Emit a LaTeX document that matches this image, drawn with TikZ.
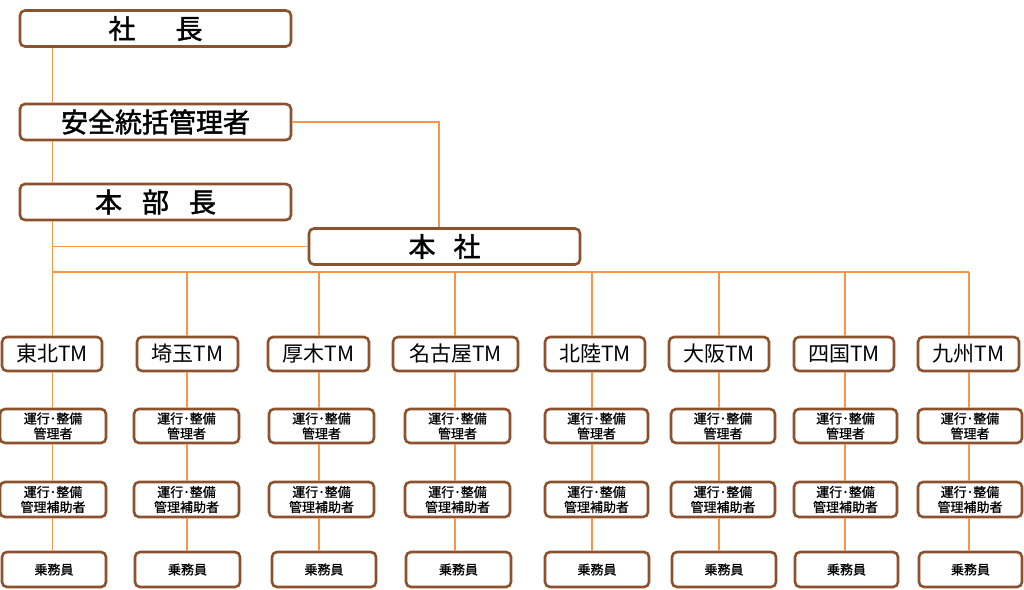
\documentclass[tikz,border=0pt]{standalone}
\usepackage{fontspec}
\setmainfont{Noto Sans CJK JP}
\newfontfamily\jpbold{Noto Sans CJK JP}[FakeBold=1.6]
\newfontfamily\jpmed{Noto Sans CJK JP}[FakeBold=0.8]
\definecolor{boxbrown}{RGB}{140,82,45}
\definecolor{lineorange}{RGB}{247,150,70}
\tikzset{
  orgbox/.style={draw=boxbrown, line width=2.6pt, rounded corners=5pt, fill=white, inner sep=0pt, align=center},
  topbox/.style={orgbox, minimum width=271pt, minimum height=36pt, font=\jpbold\fontsize{27}{30}\selectfont},
  tmbox/.style={orgbox, minimum height=34pt, font=\fontsize{21}{24}\selectfont},
  subbox/.style={orgbox, minimum height=35pt, font=\jpmed\fontsize{13}{15}\selectfont},
  orgline/.style={draw=lineorange, line width=1.7pt}
}
\begin{document}
\begin{tikzpicture}[x=1pt,y=-1pt]
\useasboundingbox (0,0) rectangle (1024,589);
\fill[white] (0,0) rectangle (1024,589);

\node[topbox] (shacho) at (155.5,28.5) {社\hspace{40pt}長};
\node[topbox] (anzen) at (155.5,122) {安全統括管理者};
\node[topbox] (honbu) at (155.5,202) {本\hspace{20pt}部\hspace{20pt}長};
\node[topbox] (honsha) at (444.5,246.5) {本\hspace{18pt}社};

\coordinate (vx) at (52.5,0);
\coordinate (jx) at (439,0);
\coordinate (busL) at (52.5,272);
\coordinate (busR) at (969,272);

\draw[orgline] (shacho.south -| vx) -- (anzen.north -| vx);
\draw[orgline] (anzen.south -| vx) -- (honbu.north -| vx);
\draw[orgline] (honbu.south -| vx) -- (busL) -- (busR);
\draw[orgline] (vx |- honsha.west) -- (honsha.west);
\draw[orgline] (anzen.east) -| (honsha.north -| jx);

\foreach \i/\lx/\ta/\tb/\sa/\sb/\ra/\rb/\nm in {
  1/52.5/2/102/0/106/2/106/東北,
  2/187/137/238/134/239/135/240/埼玉,
  3/319/268/369/269/374/272/376/厚木,
  4/455/393/518/405/510/406/511/名古屋,
  5/592/545/645/545/648/545/649/北陸,
  6/719/669/769/671/775/672/776/大阪,
  7/845/794/894/794/897/795/898/四国,
  8/969/918/1019/918/1022/919/1022/九州}{
  \node[tmbox, minimum width={\tb pt-\ta pt}] (tm\i) at ({(\ta+\tb)/2},354) {\nm TM};
  \node[subbox, minimum width={\sb pt-\sa pt}, minimum height=34pt] (kanri\i) at ({(\sa+\sb)/2},426) {運行･整備\\管理者};
  \node[subbox, minimum width={\sb pt-\sa pt}] (hojo\i) at ({(\sa+\sb)/2},499.5) {運行･整備\\管理補助者};
  \node[subbox, minimum width={\rb pt-\ra pt}] (jomu\i) at ({(\ra+\rb)/2},569.5) {乗務員};
  \coordinate (bus\i) at (\lx,272);
  \draw[orgline] (bus\i) -- (bus\i |- tm\i.north);
  \draw[orgline] (bus\i |- tm\i.south) -- (bus\i |- kanri\i.north);
  \draw[orgline] (bus\i |- kanri\i.south) -- (bus\i |- hojo\i.north);
  \draw[orgline] (bus\i |- hojo\i.south) -- (bus\i |- jomu\i.north);
}
\end{tikzpicture}
\end{document}
